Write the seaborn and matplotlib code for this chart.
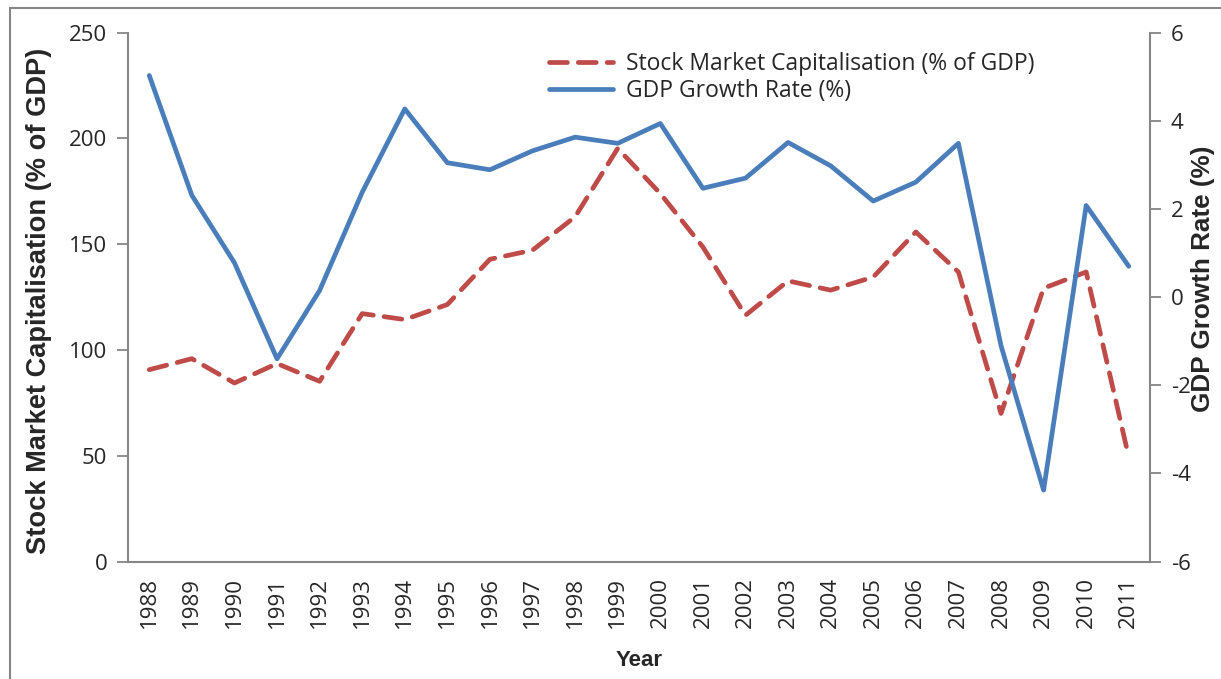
import numpy as np
import pandas as pd
import matplotlib
matplotlib.use("Agg")
import matplotlib.pyplot as plt
from matplotlib.patches import Rectangle
from matplotlib.ticker import MultipleLocator, FixedLocator
import seaborn as sns

# Values
years = list(range(1988, 2012))
stock_cap = [90.7, 95.9, 84.4, 93.6, 85.2, 117.2, 114.4, 121.5, 142.9, 147.2,
             163.0, 195.3, 174.0, 148.7, 116.4, 132.7, 128.3, 134.5, 155.8, 136.9,
             70.0, 129.2, 136.9, 49.4]
gdp_growth = [5.03, 2.31, 0.78, -1.40, 0.15, 2.38, 4.27, 3.05, 2.89, 3.32,
              3.63, 3.49, 3.94, 2.47, 2.70, 3.51, 2.98, 2.18, 2.61, 3.49,
              -1.10, -4.38, 2.08, 0.70]

df = pd.DataFrame({"Year": years, "Stock": stock_cap, "GDP": gdp_growth})

sns.set_style("white")
plt.rcParams["font.family"] = ["Open Sans", "DejaVu Sans"]
plt.rcParams["axes.unicode_minus"] = False

red = "#BE4B48"
blue = "#4A7EBB"
grey = "#868686"

fig = plt.figure(figsize=(12.21, 6.79), dpi=100)
ax = fig.add_axes([0.1048, 0.173, 0.8371, 0.7788])
ax2 = ax.twinx()

sns.lineplot(data=df, x="Year", y="Stock", ax=ax, color=red, linewidth=3.4,
             label="Stock Market Capitalisation (% of GDP)", legend=False)
ax.lines[0].set_dashes([3.8, 2.3])
ax.lines[0].set_dash_capstyle("round")
sns.lineplot(data=df, x="Year", y="GDP", ax=ax2, color=blue, linewidth=3.4,
             label="GDP Growth Rate (%)", legend=False)

ax.set_xlim(1987.5, 2011.5)
ax.set_ylim(0, 250)
ax2.set_ylim(-6, 6)
ax.yaxis.set_major_locator(MultipleLocator(50))
ax2.yaxis.set_major_locator(MultipleLocator(2))

ax.set_xticks(years)
ax.set_xticklabels([str(y) for y in years], rotation=90)
ax.xaxis.set_minor_locator(FixedLocator(np.arange(1987.5, 2012, 1.0)))
ax.tick_params(axis="x", which="major", length=0, pad=11, labelsize=16)
ax.tick_params(axis="x", which="minor", length=9, width=1.3, color=grey, direction="out")
ax.tick_params(axis="y", length=8, width=1.3, color=grey, direction="out", labelsize=16, pad=7)
ax2.tick_params(axis="y", length=8, width=1.3, color=grey, direction="out", labelsize=16, pad=7)

for a in (ax, ax2):
    for s in a.spines.values():
        s.set_visible(False)
ax.spines["left"].set_visible(True)
ax.spines["bottom"].set_visible(True)
ax2.spines["right"].set_visible(True)
for s in (ax.spines["left"], ax.spines["bottom"], ax2.spines["right"]):
    s.set_color(grey)
    s.set_linewidth(1.5)

ax.set_xlabel("Year", fontsize=16, fontweight="bold", family=["Liberation Sans"])
ax.xaxis.set_label_coords(0.5, -0.167)
ax.set_ylabel("Stock Market Capitalisation (% of GDP)", fontsize=19.6, fontweight="bold",
              family=["Liberation Sans"])
ax.yaxis.set_label_coords(-0.074, 0.493)
ax2.set_ylabel("GDP Growth Rate (%)", fontsize=18.8, fontweight="bold",
               family=["Liberation Sans"])
ax2.yaxis.set_label_coords(1.040, 0.534)

handles = ax.lines[:1] + ax2.lines[:1]
fig.legend(handles, [h.get_label() for h in handles], loc="upper left",
           bbox_to_anchor=(0.442, 0.937), frameon=False, fontsize=16.5,
           handlelength=2.8, handletextpad=0.57, labelspacing=0.15, borderaxespad=0)

fig.patches.append(Rectangle((0.008, -0.02), 1.0, 1.008,
                             transform=fig.transFigure, fill=False,
                             edgecolor=grey, linewidth=1.5))

fig.savefig("out.png", dpi=100)
